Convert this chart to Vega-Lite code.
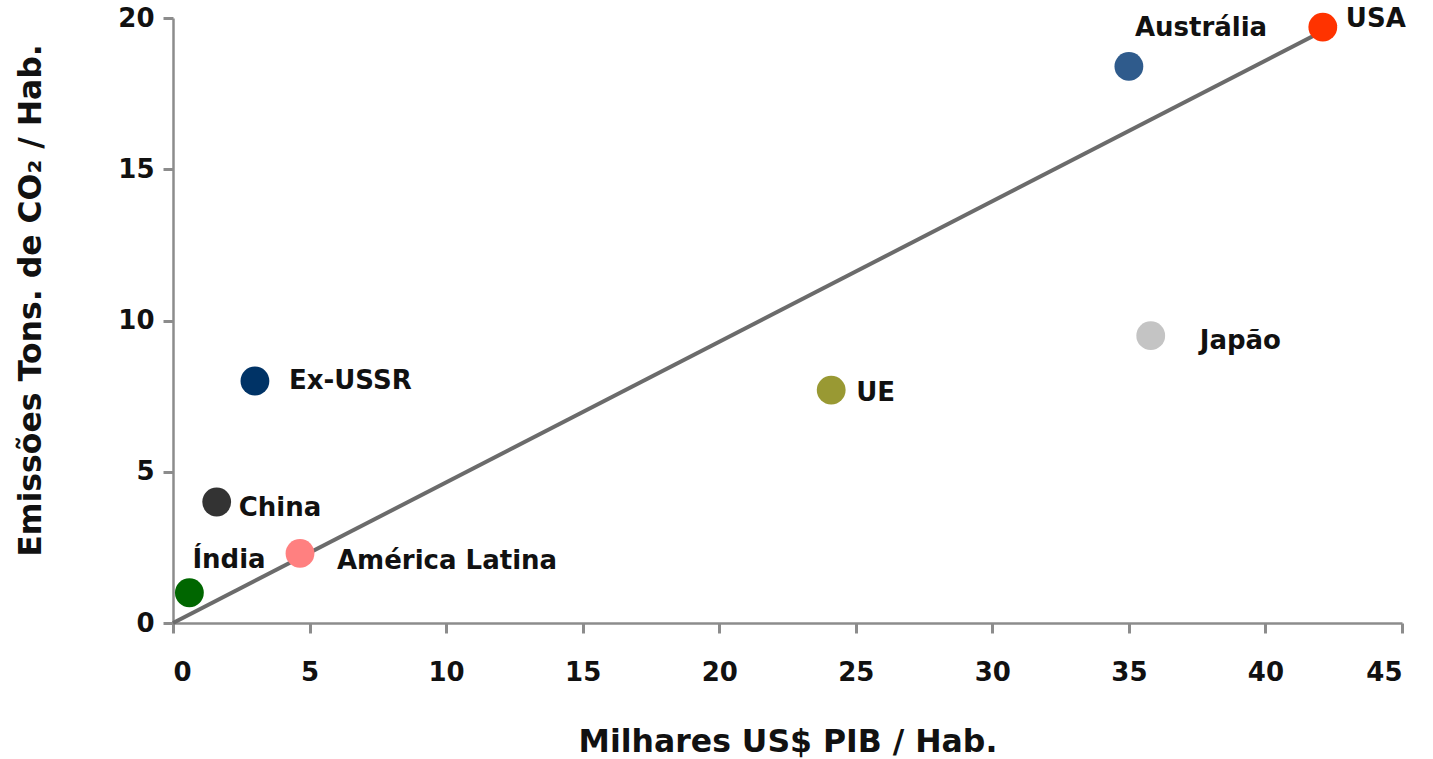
{
  "$schema": "https://vega.github.io/schema/vega-lite/v6.json",
  "autosize": {"type": "none"},
  "padding": {"left": 173, "top": 18, "right": 31, "bottom": 136},
  "width": 1229,
  "height": 605,
  "background": "white",
  "config": {
    "view": {"stroke": null},
    "font": "DejaVu Sans",
    "axis": {
      "grid": false,
      "domainColor": "#8c8c8c",
      "domainWidth": 2.5,
      "tickColor": "#8c8c8c",
      "tickWidth": 3,
      "tickSize": 10,
      "labelFont": "DejaVu Sans",
      "labelFontWeight": "bold",
      "labelFontSize": 26,
      "labelColor": "#111111",
      "titleFont": "DejaVu Sans",
      "titleFontWeight": "bold",
      "titleFontSize": 31.5,
      "titleColor": "#111111"
    }
  },
  "datasets": {
    "paises": [
      {"pais": "USA", "pib": 42.1, "co2": 19.7},
      {"pais": "Austrália", "pib": 35.0, "co2": 18.4},
      {"pais": "Japão", "pib": 35.8, "co2": 9.5},
      {"pais": "UE", "pib": 24.1, "co2": 7.7},
      {"pais": "Ex-USSR", "pib": 3.0, "co2": 8.0},
      {"pais": "China", "pib": 1.6, "co2": 4.0},
      {"pais": "América Latina", "pib": 4.65, "co2": 2.3},
      {"pais": "Índia", "pib": 0.6, "co2": 1.0}
    ],
    "tendencia": [
      {"pib": 0, "co2": 0},
      {"pib": 42.6, "co2": 19.8}
    ]
  },
  "layer": [
    {
      "data": {"name": "tendencia"},
      "mark": {"type": "line", "color": "#6b6b6b", "strokeWidth": 4},
      "encoding": {
        "x": {
          "field": "pib", "type": "quantitative",
          "scale": {"domain": [0, 45], "nice": false},
          "axis": {
            "values": [0, 5, 10, 15, 20, 25, 30, 35, 40, 45],
            "title": "Milhares US$ PIB / Hab.",
            "labelPadding": 26,
            "titlePadding": 41
          }
        },
        "y": {
          "field": "co2", "type": "quantitative",
          "scale": {"domain": [0, 20], "nice": false},
          "axis": {
            "values": [0, 5, 10, 15, 20],
            "title": "Emissões Tons. de CO₂ / Hab.",
            "labelPadding": 9,
            "titlePadding": 70,
            "titleY": 282
          }
        }
      }
    },
    {
      "data": {"name": "paises"},
      "mark": {"type": "circle", "size": 830, "opacity": 1},
      "encoding": {
        "x": {"field": "pib", "type": "quantitative"},
        "y": {"field": "co2", "type": "quantitative"},
        "color": {
          "field": "pais", "type": "nominal", "legend": null,
          "scale": {
            "domain": ["USA", "Austrália", "Japão", "UE", "Ex-USSR", "China", "América Latina", "Índia"],
            "range": ["#ff3300", "#2f5b8c", "#c4c4c4", "#999933", "#003366", "#333333", "#ff8080", "#006600"]
          }
        }
      }
    },
    {
      "data": {"name": "paises"},
      "transform": [{"filter": "datum.pais === 'USA'"}],
      "mark": {"type": "text", "align": "left", "baseline": "middle", "dx": 23, "dy": -8, "fontSize": 26, "fontWeight": "bold", "color": "#111111"},
      "encoding": {"x": {"field": "pib", "type": "quantitative"}, "y": {"field": "co2", "type": "quantitative"}, "text": {"field": "pais"}}
    },
    {
      "data": {"name": "paises"},
      "transform": [{"filter": "datum.pais === 'Austrália'"}],
      "mark": {"type": "text", "align": "left", "baseline": "middle", "dx": 6, "dy": -38, "fontSize": 26, "fontWeight": "bold", "color": "#111111"},
      "encoding": {"x": {"field": "pib", "type": "quantitative"}, "y": {"field": "co2", "type": "quantitative"}, "text": {"field": "pais"}}
    },
    {
      "data": {"name": "paises"},
      "transform": [{"filter": "datum.pais === 'Japão'"}],
      "mark": {"type": "text", "align": "left", "baseline": "middle", "dx": 49, "dy": 5, "fontSize": 26, "fontWeight": "bold", "color": "#111111"},
      "encoding": {"x": {"field": "pib", "type": "quantitative"}, "y": {"field": "co2", "type": "quantitative"}, "text": {"field": "pais"}}
    },
    {
      "data": {"name": "paises"},
      "transform": [{"filter": "datum.pais === 'UE'"}],
      "mark": {"type": "text", "align": "left", "baseline": "middle", "dx": 25, "dy": 3, "fontSize": 26, "fontWeight": "bold", "color": "#111111"},
      "encoding": {"x": {"field": "pib", "type": "quantitative"}, "y": {"field": "co2", "type": "quantitative"}, "text": {"field": "pais"}}
    },
    {
      "data": {"name": "paises"},
      "transform": [{"filter": "datum.pais === 'Ex-USSR'"}],
      "mark": {"type": "text", "align": "left", "baseline": "middle", "dx": 34, "dy": 0, "fontSize": 26, "fontWeight": "bold", "color": "#111111"},
      "encoding": {"x": {"field": "pib", "type": "quantitative"}, "y": {"field": "co2", "type": "quantitative"}, "text": {"field": "pais"}}
    },
    {
      "data": {"name": "paises"},
      "transform": [{"filter": "datum.pais === 'China'"}],
      "mark": {"type": "text", "align": "left", "baseline": "middle", "dx": 22, "dy": 6, "fontSize": 26, "fontWeight": "bold", "color": "#111111"},
      "encoding": {"x": {"field": "pib", "type": "quantitative"}, "y": {"field": "co2", "type": "quantitative"}, "text": {"field": "pais"}}
    },
    {
      "data": {"name": "paises"},
      "transform": [{"filter": "datum.pais === 'América Latina'"}],
      "mark": {"type": "text", "align": "left", "baseline": "middle", "dx": 37, "dy": 8, "fontSize": 26, "fontWeight": "bold", "color": "#111111"},
      "encoding": {"x": {"field": "pib", "type": "quantitative"}, "y": {"field": "co2", "type": "quantitative"}, "text": {"field": "pais"}}
    },
    {
      "data": {"name": "paises"},
      "transform": [{"filter": "datum.pais === 'Índia'"}],
      "mark": {"type": "text", "align": "left", "baseline": "middle", "dx": 3, "dy": -33, "fontSize": 26, "fontWeight": "bold", "color": "#111111"},
      "encoding": {"x": {"field": "pib", "type": "quantitative"}, "y": {"field": "co2", "type": "quantitative"}, "text": {"field": "pais"}}
    }
  ]
}
